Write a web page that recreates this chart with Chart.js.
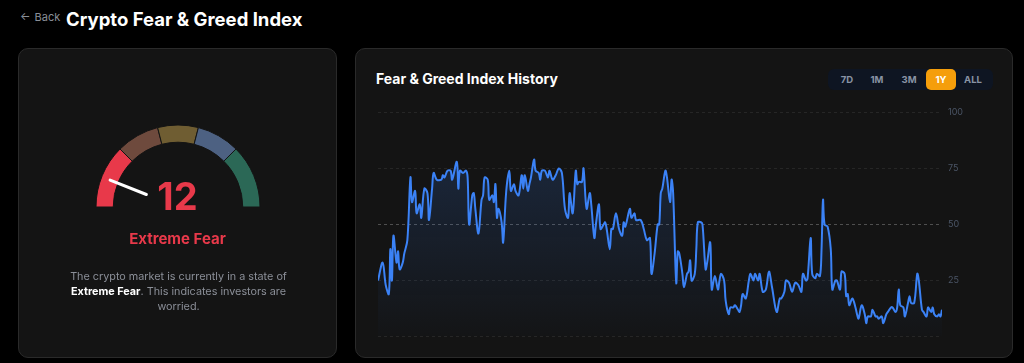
<!DOCTYPE html>
<html>
<head>
<meta charset="utf-8">
<script src="https://cdn.jsdelivr.net/npm/chart.js@4.4.0/dist/chart.umd.min.js"></script>
<style>
  body { margin: 0; background: #000; width: 1024px; height: 363px; overflow: hidden; font-family: Inter, "Noto Sans", sans-serif; position: relative; }
  .abs { position: absolute; }
  .back { left: 20px; top: 10px; font-size: 11px; color: #8a8f98; line-height: 14px; word-spacing: 1px; }
  .title { left: 66px; top: 8px; font-size: 18.5px; font-weight: 700; color: #fff; line-height: 22px; }
  .card { background: #141414; border: 1px solid #2a2a2a; border-radius: 10px; box-sizing: border-box; }
  .big { left: 18px; width: 319px; top: 177px; text-align: center; font-size: 38px; font-weight: 700; color: #e8394a; line-height: 38px; }
  .label { left: 18px; width: 319px; top: 231px; text-align: center; font-size: 15px; font-weight: 700; color: #e8394a; line-height: 15px; }
  .desc { left: 19px; width: 319px; top: 269px; text-align: center; font-size: 10.8px; color: #8b8f98; line-height: 15px; }
  .desc b { color: #fff; }
  .htitle { left: 376px; top: 70px; font-size: 14px; font-weight: 700; color: #fff; line-height: 17px; }
  .range { left: 828px; top: 69px; width: 165px; height: 21px; background: #0e1522; border-radius: 6px; }
  .btn { top: 69px; height: 21px; line-height: 21px; font-size: 9.5px; font-weight: 700; color: #8993a4; text-align: center; width: 30px; border-radius: 5px; }
  .btn.on { background: #f59e0b; color: #fff; }
</style>
</head>
<body>
<div class="abs back">&larr; Back</div>
<div class="abs title">Crypto Fear &amp; Greed Index</div>

<div class="abs card" style="left:18px;top:48px;width:319px;height:310px;"></div>
<canvas id="gauge" class="abs" width="200" height="100" style="left:78px;top:116px;"></canvas>
<div class="abs big">12</div>
<div class="abs label">Extreme Fear</div>
<div class="abs desc">The crypto market is currently in a state of<br><b>Extreme Fear</b>. This indicates investors are<br>worried.</div>

<div class="abs card" style="left:355px;top:48px;width:658px;height:310px;"></div>
<div class="abs htitle">Fear &amp; Greed Index History</div>
<div class="abs range"></div>
<div class="abs btn" style="left:832px;">7D</div>
<div class="abs btn" style="left:862px;">1M</div>
<div class="abs btn" style="left:894px;">3M</div>
<div class="abs btn on" style="left:926px;">1Y</div>
<div class="abs btn" style="left:958px;">ALL</div>
<canvas id="history" class="abs" width="600" height="247" style="left:372px;top:101px;"></canvas>

<script>
// current reading
const currentValue = 12;

// gauge bands
const bandSizes = [25, 17, 16, 17, 25];
const bandColors = ['#e8394a', '#6e4a3d', '#6f5d32', '#4d6182', '#2b6856'];

// history (day of the year, index value)
const days = [0,3,5,7,8,9,10,12,13,14,16,17,19,21,22,24,25,27,28,30,32,33,35,36,38,41,42,43,45,47,48,51,52,53,55,57,58,59,61,62,63,65,67,68,69,71,72,74,75,76,77,78,80,81,83,85,86,88,89,91,93,94,95,97,98,99,101,102,104,105,106,108,110,111,113,115,117,119,121,123,124,126,128,129,130,132,133,135,137,138,140,141,143,144,146,147,148,150,151,152,154,156,158,159,160,163,164,166,167,170,172,174,176,177,179,181,182,183,184,186,187,189,190,191,193,194,195,197,198,200,201,202,203,205,206,207,209,210,212,213,215,216,218,220,221,222,224,225,227,228,230,231,233,234,235,236,238,240,241,243,244,246,247,249,251,253,255,258,260,261,263,264,266,268,270,272,274,275,277,278,280,281,283,284,286,287,288,289,291,293,294,296,297,299,300,302,303,304,305,307,309,310,311,313,315,316,317,319,320,322,323,324,326,327,329,330,332,333,335,336,337,338,340,341,343,344,345,347,349,350,352,353,355,356,358,359,360,362,363,364,365];
const indexValues = [25,33,23,19,39,25,45,33,38,30,33,37,43,71,60,65,55,59,53,66,64,52,66,73,70,70,72,71,74,74,70,78,66,74,73,74,71,50,63,64,57,46,61,63,71,70,61,63,60,68,53,57,51,42,65,74,65,68,65,63,72,66,72,65,68,71,79,74,73,70,74,74,71,74,70,72,75,73,57,53,64,55,74,68,69,69,75,57,64,59,44,50,59,48,50,51,48,39,48,48,55,48,45,51,49,57,53,55,52,52,48,43,44,28,37,50,50,64,66,74,71,60,70,64,24,38,37,28,22,28,29,34,25,28,39,51,51,50,30,33,42,21,27,21,25,28,25,16,10,13,13,14,12,11,14,19,17,25,28,25,28,25,28,20,21,29,22,11,17,17,20,25,24,20,24,23,20,28,25,26,44,28,26,28,27,38,61,50,49,39,21,25,25,21,29,28,18,19,14,17,13,10,8,14,10,6,9,9,12,9,9,8,9,6,10,11,13,13,11,13,21,14,13,9,15,18,15,15,28,25,12,11,9,13,11,13,10,9,10,9,12];
const yTicks = [0, 25, 50, 75, 100];

// needle on the gauge
const needlePlugin = {
    id: 'needle',
    afterDatasetsDraw(chart) {
        const arc = chart.getDatasetMeta(0).data[0];
        if (!arc) return;
        const a = Math.PI + currentValue / 100 * Math.PI;
        const c = chart.ctx;
        c.save();
        c.strokeStyle = '#ffffff';
        c.lineWidth = 3;
        c.lineCap = 'round';
        c.beginPath();
        c.moveTo(arc.x + 34 * Math.cos(a), arc.y + 34 * Math.sin(a));
        c.lineTo(arc.x + 73 * Math.cos(a), arc.y + 73 * Math.sin(a));
        c.stroke();
        c.restore();
    }
};

new Chart(document.getElementById('gauge'), {
    type: 'doughnut',
    data: {
        labels: ['Extreme Fear', 'Fear', 'Neutral', 'Greed', 'Extreme Greed'],
        datasets: [{
            data: bandSizes,
            backgroundColor: bandColors,
            borderColor: '#141414',
            borderWidth: 1
        }]
    },
    options: {
        responsive: false,
        animation: false,
        devicePixelRatio: 1,
        rotation: -90,
        circumference: 180,
        radius: 82,
        cutout: '79%',
        plugins: { legend: { display: false }, tooltip: { enabled: false } }
    },
    plugins: [needlePlugin]
});

new Chart(document.getElementById('history'), {
    type: 'line',
    data: {
        datasets: [{
            data: days.map((d, i) => ({ x: d, y: indexValues[i] })),
            borderColor: '#3b82f6',
            borderWidth: 2,
            pointRadius: 0,
            tension: 0.35,
            fill: 'origin',
            backgroundColor: (ctx) => {
                const area = ctx.chart.chartArea;
                if (!area) return 'rgba(59,130,246,0.1)';
                const g = ctx.chart.ctx.createLinearGradient(0, area.top, 0, area.bottom);
                g.addColorStop(0, 'rgba(59,130,246,0.22)');
                g.addColorStop(0.35, 'rgba(59,130,246,0.14)');
                g.addColorStop(1, 'rgba(59,130,246,0.01)');
                return g;
            }
        }]
    },
    options: {
        responsive: false,
        animation: false,
        devicePixelRatio: 1,
        layout: { padding: { left: 6, top: 4, bottom: 6, right: 0 } },
        plugins: { legend: { display: false }, tooltip: { enabled: false } },
        scales: {
            x: { type: 'linear', min: days[0], max: days[days.length - 1], display: false },
            y: {
                position: 'right',
                min: yTicks[0],
                max: yTicks[yTicks.length - 1],
                afterFit(scale) { scale.width = 30; },
                afterBuildTicks(scale) { scale.ticks = yTicks.map(v => ({ value: v })); },
                ticks: {
                    padding: 6,
                    color: '#4b5566',
                    font: { family: 'Inter', size: 9 },
                    callback: (v) => v === 0 ? '' : v
                },
                grid: {
                    drawTicks: false,
                    color: (ctx) => ctx.tick && ctx.tick.value === 50 ? 'rgba(255,255,255,0.25)' : 'rgba(255,255,255,0.08)'
                },
                border: { display: false, dash: [3, 3] }
            }
        }
    }
});
</script>
</body>
</html>
